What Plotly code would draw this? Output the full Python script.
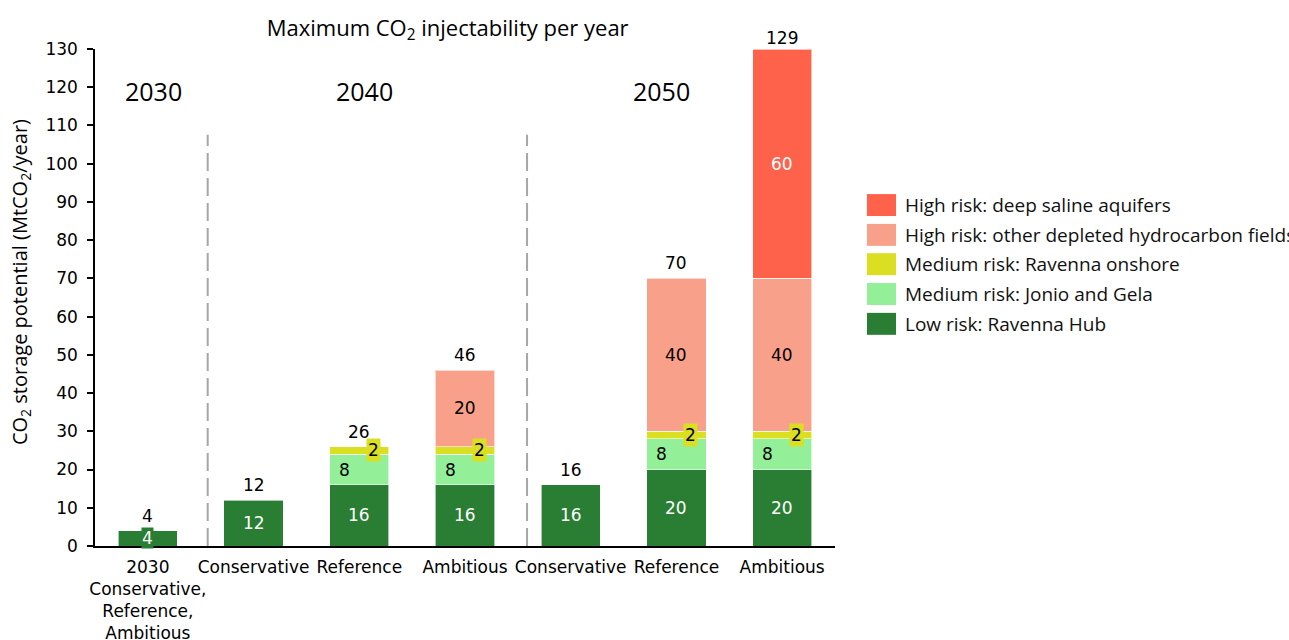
import plotly.graph_objects as go

# Scenario columns (x positions 0..6) and their axis labels
tick_labels = [
    "2030<br>Conservative,<br>Reference,<br>Ambitious",
    "Conservative", "Reference", "Ambitious",
    "Conservative", "Reference", "Ambitious",
]
positions = list(range(len(tick_labels)))

# Storage potential by risk class (MtCO2/year); None = not present
low_ravenna_hub = [4, 12, 16, 16, 16, 20, 20]
med_jonio_gela = [None, None, 8, 8, None, 8, 8]
med_ravenna_onshore = [None, None, 2, 2, None, 2, 2]
high_other_fields = [None, None, None, 20, None, 40, 40]
high_saline = [None, None, None, None, None, None, 60]
totals = [4, 12, 26, 46, 16, 70, 129]

period_labels = ["2030", "2040", "2050"]
period_pos = [0.05, 2.045, 4.855]

series = [
    ("Low risk: Ravenna Hub", low_ravenna_hub, "#2A7E34", "white"),
    ("Medium risk: Jonio and Gela", med_jonio_gela, "#93EF98", "black"),
    ("Medium risk: Ravenna onshore", med_ravenna_onshore, "#DADF22", "black"),
    ("High risk: other depleted hydrocarbon fields", high_other_fields, "#F9A08A", "black"),
    ("High risk: deep saline aquifers", high_saline, "#FF624B", "white"),
]

NUM_FONT = "DejaVu Sans, sans-serif"
TXT_FONT = "Open Sans, Noto Sans, sans-serif"

fig = go.Figure()
for name, vals, color, _ in series:
    fig.add_trace(go.Bar(
        x=positions, y=vals, name=name, width=0.56,
        marker=dict(color=color, line=dict(color="rgba(255,255,255,0.6)", width=1)),
        showlegend=False, hoverinfo="name+y",
    ))

annotations = []
# Segment value labels, stacked from the bottom
base = [0] * len(positions)
for name, vals, color, tcolor in series:
    for i, v in enumerate(vals):
        if v is None:
            continue
        mid = base[i] + v / 2
        ann = dict(x=positions[i], y=mid, xref="x", yref="y", text=str(v),
                   showarrow=False, font=dict(family=NUM_FONT, size=17, color=tcolor),
                   borderpad=0)
        if name.startswith("Low"):
            ann["bgcolor"] = color
        elif "Jonio" in name:
            ann["xshift"] = -15
        elif "onshore" in name:
            ann["bgcolor"] = color
            ann["xshift"] = 14
            ann["borderpad"] = 1
        annotations.append(ann)
        base[i] += v

# Totals above each column
for i, t in enumerate(totals):
    annotations.append(dict(x=positions[i], y=t, xref="x", yref="y", text=str(t),
                            showarrow=False, yanchor="bottom", yshift=3,
                            font=dict(family=NUM_FONT, size=17, color="black")))

# Period headings
for lab, px in zip(period_labels, period_pos):
    annotations.append(dict(x=px, y=119, xref="x", yref="y", text=lab, showarrow=False,
                            font=dict(family=TXT_FONT, size=25, color="black")))

# Y axis title
annotations.append(dict(x=-0.1014, y=0.531, xref="paper", yref="paper",
                        text="CO<sub>2</sub> storage potential (MtCO<sub>2</sub>/year)",
                        textangle=-90, showarrow=False, xanchor="center", yanchor="middle",
                        font=dict(family=TXT_FONT, size=20, color="black")))

# Period separators
shapes = []
for sx in [0.566, 3.587]:
    shapes.append(dict(type="line", xref="x", yref="y", x0=sx, x1=sx, y0=0, y1=107.6,
                       line=dict(color="#A6A6A6", width=2, dash="18px,7px")))

# Legend drawn as swatches with labels, top entry first
legend_rows = [0.686, 0.626, 0.567, 0.507, 0.447]
for (name, _, color, _), ly in zip(reversed(series), legend_rows):
    shapes.append(dict(type="rect", xref="paper", yref="paper",
                       x0=1.0432, x1=1.0824, y0=ly - 0.0221, y1=ly + 0.0221,
                       fillcolor=color, line=dict(width=0)))
    annotations.append(dict(x=1.0919, y=ly, xref="paper", yref="paper", text=name,
                            showarrow=False, xanchor="left", yanchor="middle",
                            font=dict(family=TXT_FONT, size=19, color="#111111")))

fig.update_layout(
    width=1289, height=640,
    margin=dict(l=95, r=454, t=49, b=94),
    paper_bgcolor="white", plot_bgcolor="white",
    barmode="stack",
    title=dict(text="Maximum CO<sub>2</sub> injectability per year",
               x=0.4766, xref="paper", xanchor="center",
               y=1 - 28 / 640, yref="container", yanchor="middle",
               font=dict(family=TXT_FONT, size=22, color="black")),
    xaxis=dict(range=[-0.5, 6.5], tickmode="array", tickvals=positions, ticktext=tick_labels,
               tickangle=0, ticklabelstandoff=5,
               showline=True, linecolor="black", linewidth=1.5, ticks="",
               showgrid=False, zeroline=False, automargin=False,
               tickfont=dict(family=NUM_FONT, size=17, color="black")),
    yaxis=dict(range=[0, 130], tickmode="linear", tick0=0, dtick=10,
               showline=True, linecolor="black", linewidth=1.5,
               ticks="outside", ticklen=6, tickcolor="black", tickwidth=1.5,
               ticklabelstandoff=6, automargin=False,
               showgrid=False, zeroline=False,
               tickfont=dict(family=NUM_FONT, size=17, color="black")),
    annotations=annotations,
    shapes=shapes,
    showlegend=False,
)

fig.write_html("out.html")
